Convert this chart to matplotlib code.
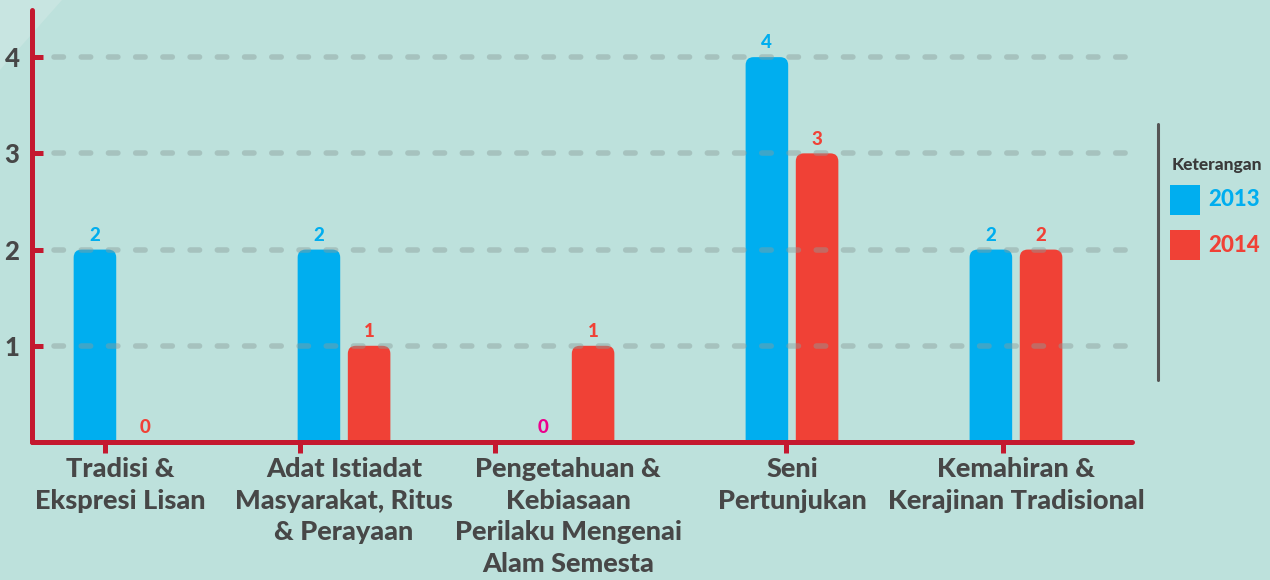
import matplotlib
matplotlib.use("Agg")
import matplotlib.pyplot as plt
from matplotlib.patches import FancyBboxPatch, Rectangle, Polygon
from matplotlib.lines import Line2D
import numpy as np

# data
categories = ["Tradisi &\nEkspresi Lisan",
              "Adat Istiadat\nMasyarakat, Ritus\n& Perayaan",
              "Pengetahuan &\nKebiasaan\nPerilaku Mengenai\nAlam Semesta",
              "Seni\nPertunjukan",
              "Kemahiran &\nKerajinan Tradisional"]
years = ["2013", "2014"]
values_2013 = [2, 2, 0, 4, 2]
values_2014 = [0, 1, 1, 3, 2]
yticks = [1, 2, 3, 4]

# colours / style
bg = "#bde1dc"
blue = "#00aeef"
red = "#f04136"
axis_red = "#c4182f"
text_dark = "#474747"
font = "Lato"
wt = "black"
bar_w = 0.19
offset = 0.112
tick_shift = [-0.067, -0.196, -0.326, -0.027, -0.058]  # x tick marks sit left of groups
zero_label_colors = {(0, 2): "#ec008c"}  # (series, category) -> colour

fig = plt.figure(figsize=(12.7, 5.8), dpi=100, facecolor=bg)
# lighter corner in top-left
fig.patches.append(Polygon([(0, 1), (62 / 1270, 1), (0, 1 - 70 / 580)], closed=True,
                           transform=fig.transFigure, fc="#c8e5e1", ec="none", zorder=-5))

ax = fig.add_axes([32 / 1270, 138 / 580, 1100 / 1270, 432 / 580])
ax.set_facecolor("none")
ax.set_zorder(2)
ax.set_xlim(-0.393, 4.518)
ax.set_ylim(0, 4.49)

x = np.arange(len(categories))
series = [values_2013, values_2014]
colors = [blue, red]

# pixel scale to get round corners right
bb = ax.get_position()
px_x = bb.width * 1270 / (ax.get_xlim()[1] - ax.get_xlim()[0])
px_y = bb.height * 580 / (ax.get_ylim()[1] - ax.get_ylim()[0])
r = 8 / px_x
asp = px_x / px_y

for s, (vals, c) in enumerate(zip(series, colors)):
    pos = x + (2 * s - 1) * offset
    bars = ax.bar(pos, vals, width=bar_w, color=c, zorder=2)
    for i, p in enumerate(bars.patches):
        h = p.get_height()
        if h > 0:
            p.set_visible(False)
            ext = 0.1
            rp = FancyBboxPatch((p.get_x(), -ext), p.get_width(), h + ext,
                                boxstyle=f"round,pad=0,rounding_size={r}",
                                mutation_aspect=asp, fc=c, ec="none", zorder=2)
            ax.add_patch(rp)
        lc = zero_label_colors.get((s, i), c)
        ax.text(pos[i], h + 0.06, str(vals[i]), ha="center", va="bottom",
                color=lc, fontsize=13.5, fontweight=wt, family=font, zorder=4)

# dashed grid over the bars
for yv in yticks:
    ax.plot([-0.295, 4.496], [yv, yv], color="#8a9e9b", alpha=0.45, lw=4,
            dashes=(1.7, 3.2), dash_capstyle="round", solid_capstyle="round", zorder=3)

for side in ["top", "right"]:
    ax.spines[side].set_visible(False)
for side in ["left", "bottom"]:
    ax.spines[side].set_color(axis_red)
    ax.spines[side].set_linewidth(3.6)
    ax.spines[side].set_capstyle("round")
    ax.spines[side].set_zorder(5)

ax.set_yticks(yticks)
ax.set_yticklabels([str(v) for v in yticks])
ax.tick_params(axis="y", direction="in", length=8, width=3.6, color=axis_red,
               labelcolor=text_dark, labelsize=18.5, pad=9)

ax.set_xticks(x)
ax.set_xticklabels(categories)
ax.set_xticks(x + np.array(tick_shift), minor=True)
ax.tick_params(axis="x", which="major", length=0, pad=11, labelcolor=text_dark, labelsize=19.5)
ax.tick_params(axis="x", which="minor", direction="out", length=8, width=3.6, color=axis_red)
for lab in ax.get_xticklabels() + ax.get_yticklabels():
    lab.set_fontfamily(font)
    lab.set_fontweight(wt)
for lab in ax.get_xticklabels():
    lab.set_linespacing(1.38)

# legend block on the right
fig.add_artist(Line2D([1158 / 1270, 1158 / 1270], [1 - 124 / 580, 1 - 380 / 580],
                      color="#555555", lw=2.2, solid_capstyle="round"))
fig.text(1172 / 1270, 1 - 165 / 580, "Keterangan", ha="left", va="center",
         fontsize=12.5, fontweight=wt, color="#3a3a3a", family=font)
for k, (yr, c) in enumerate(zip(years, colors)):
    top = 185 + 45 * k
    fig.add_artist(Rectangle((1170 / 1270, 1 - (top + 30) / 580), 30 / 1270, 30 / 580,
                             transform=fig.transFigure, fc=c, ec="none"))
    fig.text(1208 / 1270, 1 - (top + 15) / 580, yr, ha="left", va="center",
             fontsize=16, fontweight=wt, color=c, family=font)

fig.savefig("out.png", dpi=100, facecolor=bg)
